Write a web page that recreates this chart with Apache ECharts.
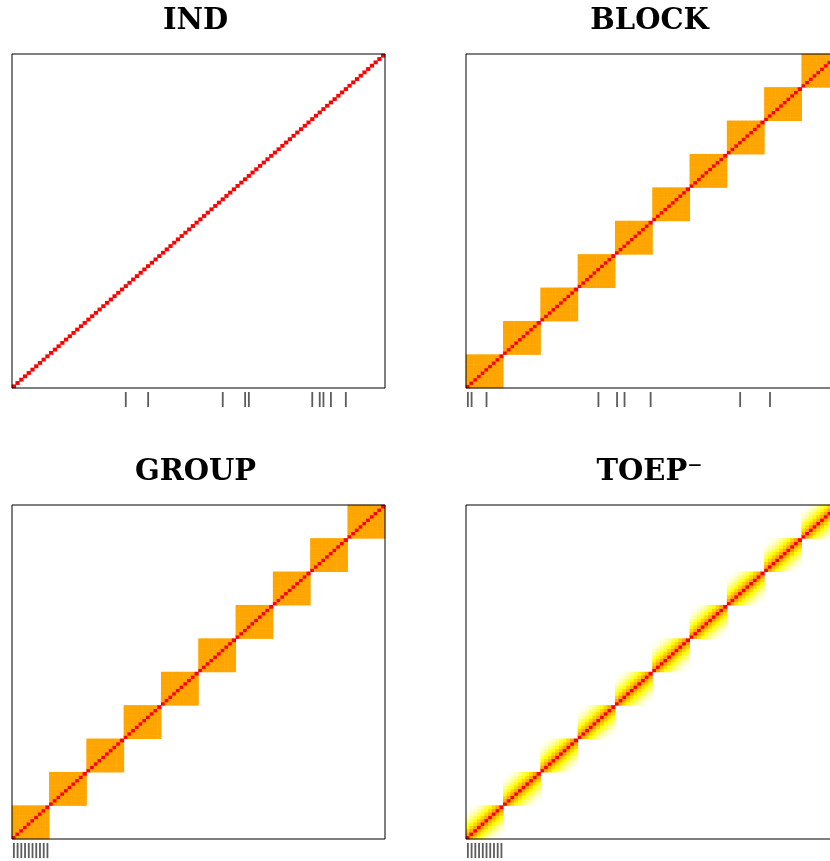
<!DOCTYPE html>
<html>
<head>
<meta charset="utf-8">
<script src="https://cdn.jsdelivr.net/npm/echarts@6/dist/echarts.min.js"></script>
<style>
  html, body { margin: 0; padding: 0; background: #fff; overflow: hidden; }
  #chart { width: 830px; height: 861px; }
</style>
</head>
<body>
<div id="chart"></div>
<script>
// 100 variables, split in 10 blocks of 10
const nVar = 100;
const blockSize = 10;
const blockRho = 0.5;

// panel titles
const titles = ["IND", "BLOCK", "GROUP", "TOEP\u207B"];

// positions (1-based) of the nonzero coefficients, drawn as rug marks
const indRug = [31, 37, 57, 63, 64, 81, 83, 84, 86, 90];
const blockRug = [1, 2, 6, 36, 41, 43, 50, 74, 82];
const groupRug = [1, 2, 3, 4, 5, 6, 7, 8, 9, 10];
const toepRug = [1, 2, 3, 4, 5, 6, 7, 8, 9, 10];

// colours
const diagColor = "#FF0000";
const blockColor = "#FFA500";
// toeplitz colour by lag inside a block (lag 0 .. 9)
const toepLagColors = ["#FF0000", "#FFA500", "#FFD500", "#FFFF00", "#FFFF50",
  "#FFFF90", "#FFFFC0", "#FFFFE4", "#FFFFF6", "#FFFFFF"];

const cats = [];
for (let i = 1; i <= nVar; i++) cats.push(String(i));

function sameBlock(i, j) {
  return Math.floor(i / blockSize) === Math.floor(j / blockSize);
}
function indCells() {
  const out = [];
  for (let i = 0; i < nVar; i++) out.push([i, i, 1]);
  return out;
}
function blockCells() {
  const out = [];
  for (let i = 0; i < nVar; i++)
    for (let j = 0; j < nVar; j++)
      if (sameBlock(i, j)) out.push([i, j, i === j ? 1 : blockRho]);
  return out;
}
function toepCells() {
  const out = [];
  for (let i = 0; i < nVar; i++)
    for (let j = 0; j < nVar; j++)
      if (sameBlock(i, j)) out.push([i, j, Math.abs(i - j)]);
  return out;
}

// right column runs past the page edge (cropped like the original)
const panels = [
  { left: 12, top: 54, cells: indCells(), rug: indRug, vm: 0 },
  { left: 466, top: 54, cells: blockCells(), rug: blockRug, vm: 0 },
  { left: 12, top: 505, cells: blockCells(), rug: groupRug, vm: 0 },
  { left: 466, top: 505, cells: toepCells(), rug: toepRug, vm: 1 }
];
const W = 373, H = 334;

const grid = [], xAxis = [], yAxis = [], series = [], graphic = [];
const heatIdx = [[], []];
panels.forEach((p, k) => {
  // box drawn above the image, like a plot frame
  grid.push({ left: p.left, width: W, top: p.top, height: H, show: true,
    outerBoundsMode: "none", z: 5,
    borderColor: "#000", borderWidth: 1, backgroundColor: "transparent" });
  grid.push({ left: p.left, width: W, top: p.top + H + 4, height: 15,
    outerBoundsMode: "none" });
  const g = k * 2;
  xAxis.push({ gridIndex: g, type: "category", data: cats, show: false });
  yAxis.push({ gridIndex: g, type: "category", data: cats, show: false });
  xAxis.push({ gridIndex: g + 1, type: "category", data: cats, show: false });
  yAxis.push({ gridIndex: g + 1, type: "value", min: 0, max: 1, show: false });
  heatIdx[p.vm].push(series.length);
  series.push({
    type: "heatmap", xAxisIndex: g, yAxisIndex: g, z: 1,
    data: p.cells, itemStyle: { borderWidth: 0 }, progressive: 0, animation: false
  });
  series.push({
    type: "scatter", xAxisIndex: g + 1, yAxisIndex: g + 1,
    symbol: "rect", symbolSize: [1.8, 15],
    itemStyle: { color: "#333" }, silent: true, animation: false,
    data: p.rug.map(r => [r - 1, 0.5])
  });
  graphic.push({
    type: "text", x: p.left + W / 2 - 3, y: p.top - 33,
    style: { text: titles[k], font: "bold 29px 'DejaVu Serif'", fill: "#000",
      align: "center", verticalAlign: "middle" }
  });
});

const chart = echarts.init(document.getElementById("chart"));
chart.setOption({
  animation: false,
  grid, xAxis, yAxis, series, graphic,
  visualMap: [
    { type: "piecewise", show: false, seriesIndex: heatIdx[0], dimension: 2,
      pieces: [{ value: 1, color: diagColor }, { value: blockRho, color: blockColor }] },
    { type: "piecewise", show: false, seriesIndex: heatIdx[1], dimension: 2,
      pieces: toepLagColors.map((c, lag) => ({ value: lag, color: c })) }
  ]
});
</script>
</body>
</html>
